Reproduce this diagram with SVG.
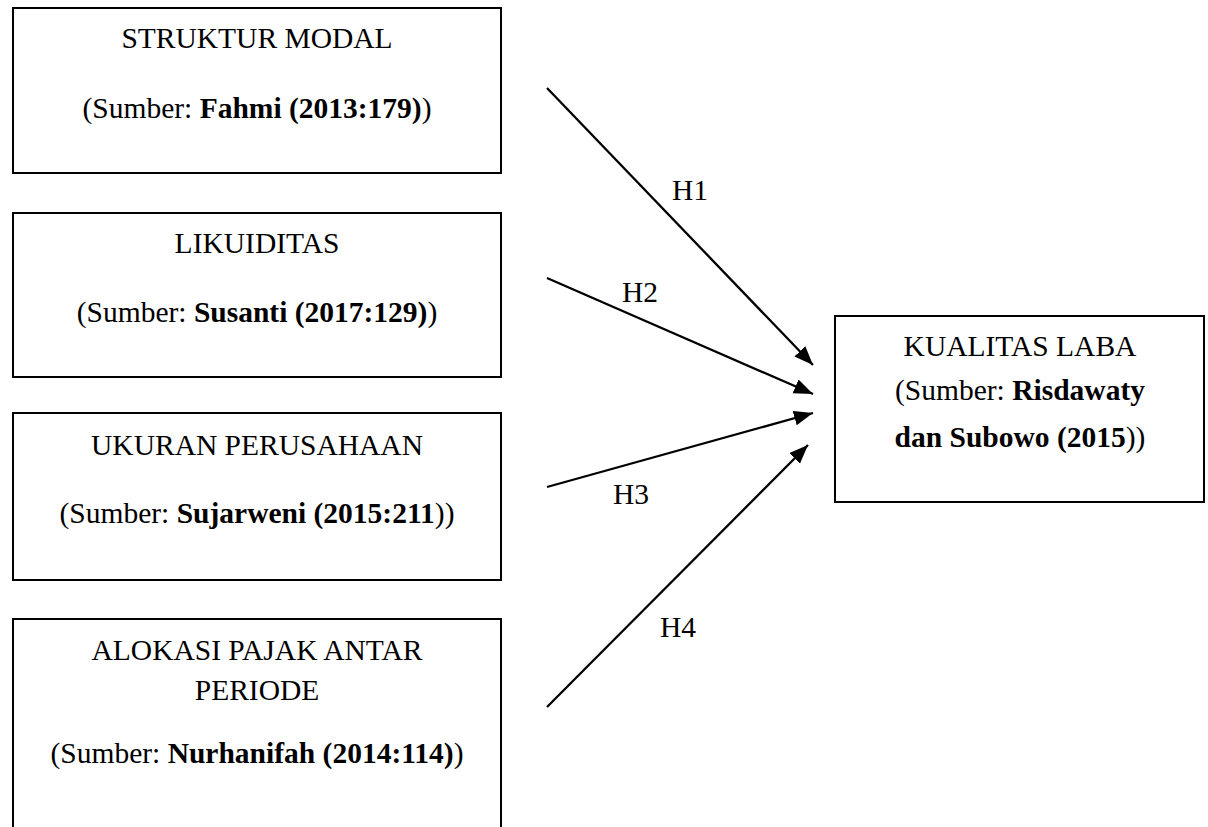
<svg xmlns="http://www.w3.org/2000/svg" width="1208" height="827" viewBox="0 0 1208 827">
<style>
.box{fill:#fff;stroke:#000;stroke-width:2}
text{font-family:"Liberation Serif","Times New Roman",serif;font-size:29.5px;fill:#000;text-anchor:middle}
.b{font-weight:bold}
.lbl{text-anchor:start}
.conn{stroke:#000;stroke-width:2.3;fill:none;marker-end:url(#ah)}
</style>
<defs>
<marker id="ah" markerUnits="userSpaceOnUse" markerWidth="20" markerHeight="16" refX="19" refY="7.5" orient="auto">
<path d="M0,0 L19,7.5 L0,15 z" fill="#000"/>
</marker>
</defs>
<rect width="1208" height="827" fill="#fff"/>
<g id="struktur-modal">
<rect class="box" x="13" y="8" width="488" height="165"/>
<text x="257" y="48">STRUKTUR MODAL</text>
<text x="257" y="118">(Sumber: <tspan class="b">Fahmi (2013:179)</tspan>)</text>
</g>
<g id="likuiditas">
<rect class="box" x="13" y="213" width="488" height="164"/>
<text x="257" y="253">LIKUIDITAS</text>
<text x="257" y="322">(Sumber: <tspan class="b">Susanti (2017:129)</tspan>)</text>
</g>
<g id="ukuran-perusahaan">
<rect class="box" x="13" y="413" width="488" height="167"/>
<text x="257" y="455">UKURAN PERUSAHAAN</text>
<text x="257" y="523">(Sumber: <tspan class="b">Sujarweni (2015:211</tspan>))</text>
</g>
<g id="alokasi-pajak">
<rect class="box" x="13" y="619" width="488" height="240"/>
<text x="257" y="660">ALOKASI PAJAK ANTAR</text>
<text x="257" y="700">PERIODE</text>
<text x="257" y="763">(Sumber: <tspan class="b">Nurhanifah (2014:114)</tspan>)</text>
</g>
<g id="kualitas-laba">
<rect class="box" x="835" y="316" width="369" height="186"/>
<text x="1020" y="356">KUALITAS LABA</text>
<text x="1020" y="400">(Sumber: <tspan class="b">Risdawaty</tspan></text>
<text x="1020" y="447"><tspan class="b">dan Subowo (2015</tspan>))</text>
</g>
<g id="connectors">
<line class="conn" x1="547" y1="88" x2="813" y2="365"/>
<line class="conn" x1="547" y1="278" x2="813" y2="394"/>
<line class="conn" x1="547" y1="487" x2="813" y2="413"/>
<line class="conn" x1="547" y1="707" x2="808" y2="445"/>
<text class="lbl" x="672" y="200">H1</text>
<text class="lbl" x="622" y="302">H2</text>
<text class="lbl" x="613" y="504">H3</text>
<text class="lbl" x="660" y="637">H4</text>
</g>
</svg>
